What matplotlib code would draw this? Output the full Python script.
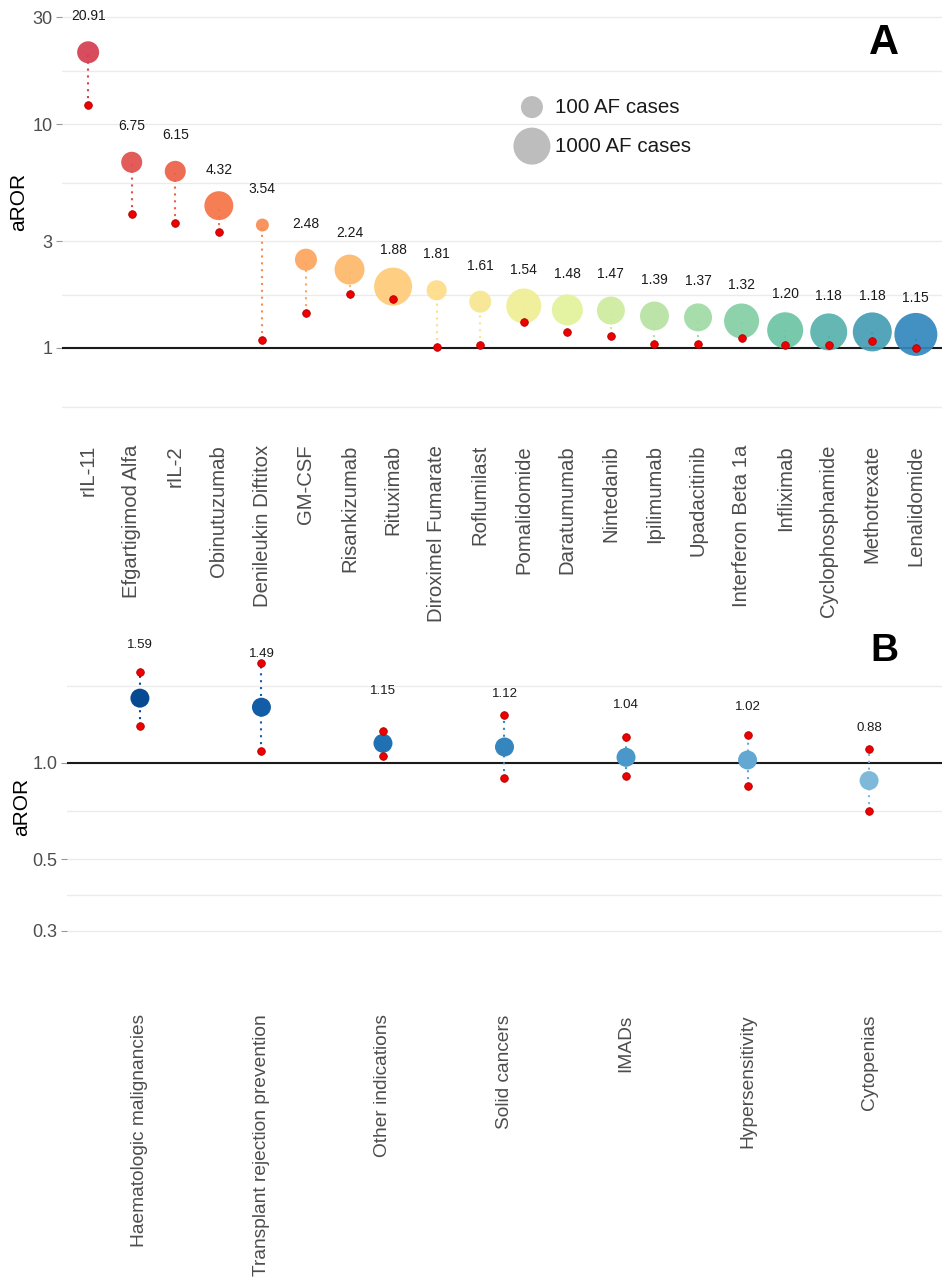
import numpy as np
import matplotlib.pyplot as plt
from matplotlib.colors import LinearSegmentedColormap

plt.rcParams['font.family'] = ['Liberation Sans', 'DejaVu Sans']

# panel A data
drugs = ['rIL-11', 'Efgartigimod Alfa', 'rIL-2', 'Obinutuzumab', 'Denileukin Diftitox',
         'GM-CSF', 'Risankizumab', 'Rituximab', 'Diroximel Fumarate', 'Roflumilast',
         'Pomalidomide', 'Daratumumab', 'Nintedanib', 'Ipilimumab', 'Upadacitinib',
         'Interferon Beta 1a', 'Infliximab', 'Cyclophosphamide', 'Methotrexate', 'Lenalidomide']
aror = [20.91, 6.75, 6.15, 4.32, 3.54, 2.48, 2.24, 1.88, 1.81, 1.61,
        1.54, 1.48, 1.47, 1.39, 1.37, 1.32, 1.20, 1.18, 1.18, 1.15]
lower = [12.2, 3.98, 3.61, 3.29, 1.09, 1.44, 1.74, 1.65, 1.01, 1.03,
         1.31, 1.18, 1.13, 1.04, 1.04, 1.11, 1.03, 1.03, 1.07, 1.00]
cases = [100, 86, 86, 290, 25, 100, 340, 1170, 75, 100,
         740, 400, 250, 290, 250, 740, 860, 1000, 1360, 2500]
legend_cases = [100, 1000]

# panel B data
groups = ['Haematologic malignancies', 'Transplant rejection prevention', 'Other indications',
          'Solid cancers', 'IMADs', 'Hypersensitivity', 'Cytopenias']
g_aror = [1.59, 1.49, 1.15, 1.12, 1.04, 1.02, 0.88]
g_lower = [1.30, 1.085, 1.05, 0.896, 0.911, 0.848, 0.706]
g_upper = [1.92, 2.04, 1.26, 1.41, 1.20, 1.22, 1.10]

spectral = LinearSegmentedColormap.from_list(
    'spec', ['#D53E4F', '#F46D43', '#FDAE61', '#FEE08B', '#E6F598', '#ABDDA4', '#66C2A5', '#3288BD'])


def bubble(n):
    # diameter in px grows with log of case count, converted to points^2
    d = 22 + 15 * (np.log10(np.asarray(n, dtype=float)) - 2)
    return (d / 1.389) ** 2


def style(ax, majors, labels, minors):
    for s in ax.spines.values():
        s.set_visible(False)
    ax.set_yscale('log')
    ax.set_yticks(majors)
    ax.set_yticklabels(labels)
    ax.set_yticks(minors, minor=True)
    ax.yaxis.grid(True, which='both', color='#EBEBEB', lw=1.0)
    ax.set_axisbelow(True)
    ax.tick_params(axis='y', which='major', length=4, color='#999999',
                   labelsize=13, labelcolor='#4D4D4D', pad=3)
    ax.tick_params(axis='y', which='minor', length=0)
    ax.tick_params(axis='x', length=0, labelcolor='#4D4D4D')
    ax.axhline(1, color='#1A1A1A', lw=1.5, zorder=2)
    ax.set_ylabel('aROR', fontsize=15, labelpad=0.5)


fig = plt.figure(figsize=(9.53, 12.8), dpi=100)

## Panel A ##
ax = fig.add_axes([62 / 953, 1 - 420 / 1280, 880 / 953, 415 / 1280])
x = np.arange(len(drugs))
colors = spectral(np.linspace(0, 1, len(drugs)))
style(ax, [1, 3, 10, 30], ['1', '3', '10', '30'], [0.548, 1.73, 5.48, 17.3])
ax.yaxis.set_label_coords(-0.038, 0.525)
ax.set_ylim(0.477, 34)
ax.set_xlim(-0.6, len(drugs) - 0.4)
ax.vlines(x, lower, aror, colors=colors, linestyles=(0, (1, 2.3)), lw=1.5, zorder=3)
ax.scatter(x, aror, s=bubble(cases), c=colors, alpha=0.92, lw=0, zorder=4)
ax.scatter(x, lower, s=30, c='#EE0000', edgecolors='#B00000', lw=0.6, zorder=5)
for i, v in enumerate(aror):
    ax.text(i, v * 1.45, f'{v:.2f}', ha='center', va='center', fontsize=10, color='#1A1A1A')
ax.set_xticks(x)
ax.set_xticklabels(drugs, rotation=90)
ax.tick_params(axis='x', pad=18, labelsize=14.6)

ax.scatter([0.534, 0.534], [0.754, 0.660], s=bubble(legend_cases), c='#BDBDBD',
           lw=0, transform=ax.transAxes, zorder=4)
for yy, n in zip([0.754, 0.660], legend_cases):
    ax.text(0.560, yy, f'{n} AF cases', transform=ax.transAxes, fontsize=14.8,
            va='center', ha='left', color='#1A1A1A')
ax.text(0.934, 0.908, 'A', transform=ax.transAxes, fontsize=30, fontweight='bold',
        ha='center', va='center')

## Panel B ##
bx = fig.add_axes([67 / 953, 1 - 985 / 1280, 875 / 953, 357 / 1280])
xg = np.arange(len(groups))
gcol = plt.cm.Blues(np.linspace(0.9, 0.45, len(groups)))
style(bx, [0.3, 0.5, 1.0], ['0.3', '0.5', '1.0'], [0.387, 0.707, 1.73])
bx.set_ylim(0.203, 2.63)
bx.set_xlim(-0.6, len(groups) - 0.4)
bx.vlines(xg, g_lower, g_upper, colors=gcol, linestyles=(0, (1, 2.3)), lw=1.5, zorder=3)
bx.scatter(xg, g_aror, s=(19 / 1.389) ** 2, c=gcol, lw=0, zorder=4)
bx.scatter(xg, g_lower, s=30, c='#EE0000', edgecolors='#B00000', lw=0.6, zorder=5)
bx.scatter(xg, g_upper, s=30, c='#EE0000', edgecolors='#B00000', lw=0.6, zorder=5)
for i, v in enumerate(g_aror):
    bx.text(i, v * 1.46, f'{v:.2f}', ha='center', va='center', fontsize=9.5, color='#1A1A1A')
bx.set_xticks(xg)
bx.set_xticklabels(groups, rotation=90)
bx.tick_params(axis='x', pad=21, labelsize=13.8)
bx.text(0.934, 0.936, 'B', transform=bx.transAxes, fontsize=28, fontweight='bold',
        ha='center', va='center')

fig.savefig('out.png', dpi=100)
